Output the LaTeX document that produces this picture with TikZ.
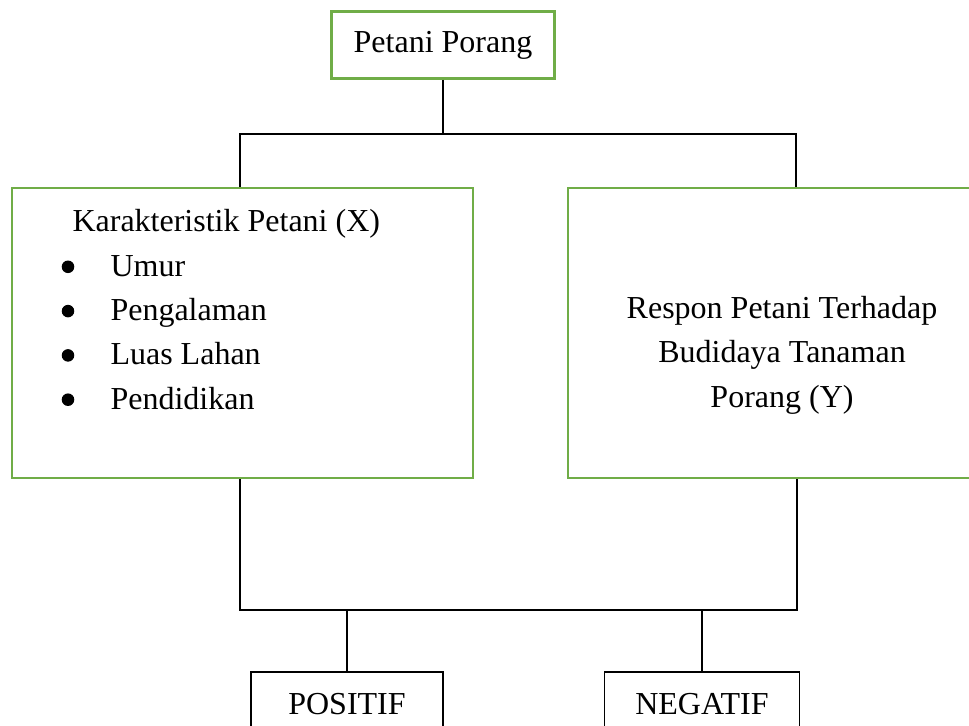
\documentclass[tikz,border=0pt]{standalone}
\usepackage{fontspec}
\setmainfont{Liberation Serif}
\definecolor{boxgreen}{RGB}{112,173,71}
\tikzset{
  greenbox/.style 2 args={draw=boxgreen, line width=1pt, inner sep=0pt,
    minimum width=#1*0.375pt, minimum height=#2*0.375pt},
  blackbox/.style 2 args={draw, line width=0.6pt, inner sep=0pt,
    minimum width=#1*0.375pt, minimum height=#2*0.375pt},
  dot/.style={circle, fill, inner sep=0pt, minimum size=4.7pt},
  link/.style={draw, line width=0.75pt},
}
\begin{document}
\begin{tikzpicture}[x=0.375pt,y=-0.375pt,font=\fontsize{12}{16.6}\selectfont]
  \useasboundingbox (0,0) rectangle (969,726);
  % boxes
  \node[greenbox={223}{67}] (petani) at (443,45) {Petani Porang};
  \node[greenbox={461}{290}] (karakter) at (242.5,333) {};
  \node[greenbox={432}{290}] (respon) at (784,333) {};
  \node[blackbox={192}{64}] (positif) at (347,704) {POSITIF};
  \node[blackbox={195}{64}] (negatif) at (702,704) {NEGATIF};
  % texts in the boxes
  \node[anchor=base west, inner sep=0pt] (ciri) at (72,232) {Karakteristik Petani (X)};
  \foreach \item [count=\i] in {Umur, Pengalaman, Luas Lahan, Pendidikan} {
    \node[dot] (bullet\i) at (68,{232+44.3*\i-9.5}) {};
    \node[anchor=base west, inner sep=0pt] (ciri\i) at (110,{232+44.3*\i}) {\item};
  }
  \node[anchor=north, inner sep=0pt, align=center] (respontext) at (782,296)
    {Respon Petani Terhadap\\Budidaya Tanaman\\Porang (Y)};
  % connectors
  \coordinate (busL) at (240,134);
  \coordinate (busR) at (796,134);
  \coordinate (lowL) at (240,610);
  \coordinate (lowR) at (797,610);
  \draw[link] (petani.south) -- (petani.south |- busL);
  \draw[link] (busL |- karakter.north) -- (busL) -- (busR) -- (busR |- respon.north);
  \draw[link] (lowL |- karakter.south) -- (lowL) -- (lowR) -- (lowR |- respon.south);
  \draw[link] (positif.north) -- (positif.north |- lowL);
  \draw[link] (negatif.north) -- (negatif.north |- lowL);
\end{tikzpicture}
\end{document}
